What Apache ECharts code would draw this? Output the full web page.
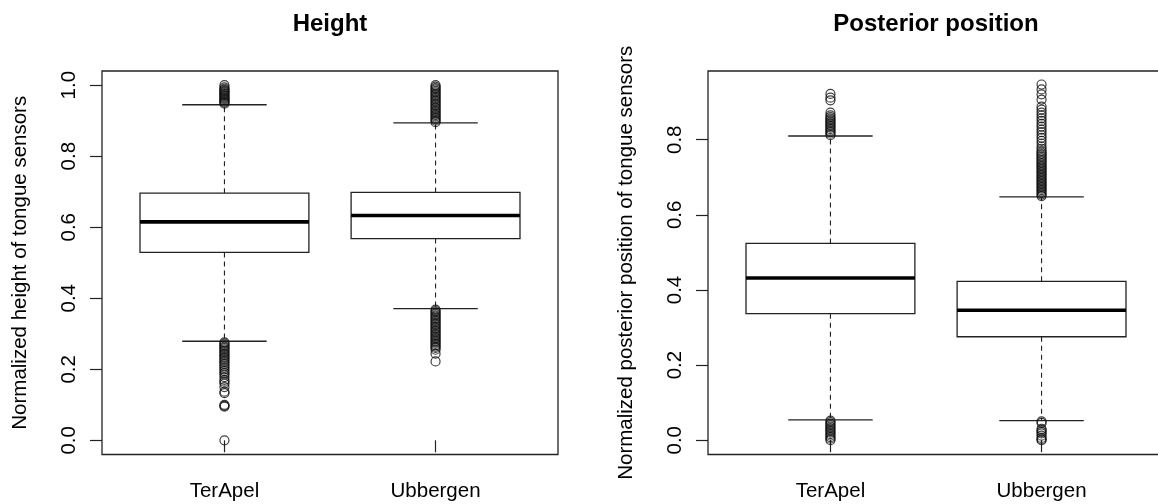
<!doctype html>
<html>
<head>
    <meta charset="utf-8">
    <title>Height / Posterior position</title>
    <style>
        html, body { margin: 0; padding: 0; background: #fff; }
        #chart { width: 1158px; height: 504px; }
    </style>
</head>
<body>
<div id="chart"></div>
<script src="https://cdn.jsdelivr.net/npm/echarts@6/dist/echarts.min.js"></script>
<script>
    // categories
    var categories = ['TerApel', 'Ubbergen'];

    // box stats per category: [lower whisker, Q1, median, Q3, upper whisker]
    var heightStats = [
        [0.279, 0.529, 0.615, 0.696, 0.945],
        [0.371, 0.568, 0.633, 0.698, 0.894]
    ];
    var posteriorStats = [
        [0.054, 0.337, 0.432, 0.524, 0.810],
        [0.052, 0.2755, 0.346, 0.423, 0.648]
    ];

    // outliers
    var heightOutTerApel = [0.948, 0.951, 0.954, 0.957, 0.96, 0.963, 0.966, 0.969, 0.972, 0.975, 0.978, 0.981, 0.984, 0.987, 0.99, 0.994, 1.0,
        0.276, 0.272, 0.268, 0.264, 0.26, 0.256, 0.252, 0.248, 0.244, 0.24, 0.236, 0.232, 0.228, 0.224, 0.22, 0.215, 0.21, 0.205, 0.2,
        0.195, 0.19, 0.185, 0.178, 0.17, 0.165, 0.16, 0.15, 0.137, 0.133, 0.1, 0.097, 0.095, 0.0];
    var heightOutUbbergen = [0.896, 0.9, 0.904, 0.908, 0.912, 0.916, 0.92, 0.924, 0.928, 0.932, 0.936, 0.94, 0.944, 0.948, 0.952, 0.956,
        0.96, 0.964, 0.968, 0.972, 0.976, 0.98, 0.984, 0.988, 0.992, 0.996, 1.0,
        0.368, 0.364, 0.36, 0.356, 0.352, 0.348, 0.344, 0.34, 0.336, 0.332, 0.328, 0.324, 0.32, 0.316, 0.312, 0.308, 0.304, 0.3, 0.296,
        0.292, 0.288, 0.284, 0.28, 0.276, 0.272, 0.268, 0.264, 0.26, 0.255, 0.244, 0.222];
    var posteriorOutTerApel = [0.812, 0.816, 0.82, 0.824, 0.828, 0.832, 0.836, 0.84, 0.844, 0.848, 0.852, 0.856, 0.86, 0.865, 0.872, 0.905, 0.912, 0.922,
        0.052, 0.048, 0.044, 0.04, 0.036, 0.032, 0.028, 0.024, 0.02, 0.016, 0.012, 0.008, 0.004, 0.0];
    var posteriorOutUbbergen = [0.65, 0.654, 0.658, 0.662, 0.666, 0.67, 0.674, 0.678, 0.682, 0.686, 0.69, 0.694, 0.698, 0.702, 0.706, 0.71,
        0.714, 0.718, 0.722, 0.726, 0.73, 0.734, 0.738, 0.742, 0.746, 0.75, 0.754, 0.758, 0.762, 0.766, 0.77, 0.776,
        0.782, 0.79, 0.797, 0.805, 0.812, 0.82, 0.827, 0.835, 0.842, 0.85, 0.857, 0.865, 0.872, 0.88, 0.888, 0.907, 0.921, 0.934, 0.947,
        0.05, 0.046, 0.03, 0.026, 0.022, 0.018, 0.012, 0.006, 0.002, 0.0];

    // tick labels
    var heightTicks = [0, 0.2, 0.4, 0.6, 0.8, 1.0];
    var posteriorTicks = [0, 0.2, 0.4, 0.6, 0.8];
    var titles = ['Height', 'Posterior position'];
    var yNames = ['Normalized height of tongue sensors', 'Normalized posterior position of tongue sensors'];

    var font = 'Liberation Sans, Arial, Helvetica, sans-serif';
    var ink = '#222';

    function boxData(stats) {
        return stats.map(function (s, i) { return [i + 1].concat(s); });
    }
    function outData(vals, x) {
        return vals.map(function (v) { return [x, v]; });
    }

    // R style box: dashed whiskers, half-width staples, thick median
    function renderBox(params, api) {
        var x = api.value(0);
        var lo = api.coord([x, api.value(1)]);
        var q1 = api.coord([x, api.value(2)]);
        var md = api.coord([x, api.value(3)]);
        var q3 = api.coord([x, api.value(4)]);
        var hi = api.coord([x, api.value(5)]);
        var bw = api.size([0.8, 0])[0];
        var sw = api.size([0.4, 0])[0];
        var cx = md[0];
        var dash = {stroke: ink, lineWidth: 1.1, lineDash: [5, 4]};
        var solid = {stroke: ink, lineWidth: 1.3};
        return {
            type: 'group',
            children: [
                {type: 'line', shape: {x1: cx, y1: q3[1], x2: cx, y2: hi[1]}, style: dash},
                {type: 'line', shape: {x1: cx, y1: q1[1], x2: cx, y2: lo[1]}, style: dash},
                {type: 'line', shape: {x1: cx - sw / 2, y1: hi[1], x2: cx + sw / 2, y2: hi[1]}, style: solid},
                {type: 'line', shape: {x1: cx - sw / 2, y1: lo[1], x2: cx + sw / 2, y2: lo[1]}, style: solid},
                {type: 'rect', shape: {x: cx - bw / 2, y: q3[1], width: bw, height: q1[1] - q3[1]},
                    style: {fill: '#fff', stroke: ink, lineWidth: 1.3}},
                {type: 'line', shape: {x1: cx - bw / 2, y1: md[1], x2: cx + bw / 2, y2: md[1]},
                    style: {stroke: '#000', lineWidth: 3.6}}
            ]
        };
    }

    function xAxisFor(idx) {
        return {
            type: 'value', gridIndex: idx, min: 0.42, max: 2.58,
            axisLine: {show: false},
            splitLine: {show: false},
            axisTick: {show: true, customValues: [1, 2], length: 12, lineStyle: {color: ink, width: 1.2}},
            axisLabel: {
                customValues: [1, 2], margin: 26, color: '#000', fontSize: 20.5, fontFamily: font,
                formatter: function (v) { return categories[Math.round(v) - 1]; }
            }
        };
    }
    function yAxisFor(idx, lo, hi, ticks, name) {
        return {
            type: 'value', gridIndex: idx, min: lo, max: hi,
            name: name, nameLocation: 'middle', nameGap: 71,
            nameTextStyle: {color: '#000', fontSize: 20.5, fontFamily: font},
            axisLine: {show: false},
            splitLine: {show: false},
            axisTick: {show: true, customValues: ticks, length: 12, lineStyle: {color: ink, width: 1.2}},
            axisLabel: {
                customValues: ticks, rotate: 90, margin: 22, color: '#000', fontSize: 20.5, fontFamily: font,
                formatter: function (v) { return v.toFixed(1); }
            }
        };
    }
    function outSeries(idx, vals, x) {
        return {
            type: 'scatter', xAxisIndex: idx, yAxisIndex: idx, z: 5,
            symbol: 'circle', symbolSize: 9,
            itemStyle: {color: 'rgba(0,0,0,0)', borderColor: '#111', borderWidth: 1.2},
            data: outData(vals, x)
        };
    }

    var myChart = echarts.init(document.getElementById('chart'), null, {renderer: 'canvas'});
    var option = {
        backgroundColor: '#fff',
        animation: false,
        title: [
            {text: titles[0], left: 330, top: 12, padding: 0, textAlign: 'center',
                textStyle: {fontSize: 24, fontWeight: 'bold', color: '#000', fontFamily: font}},
            {text: titles[1], left: 936, top: 12, padding: 0, textAlign: 'center',
                textStyle: {fontSize: 24, fontWeight: 'bold', color: '#000', fontFamily: font}}
        ],
        grid: [
            {left: 102, top: 71, width: 456, height: 383.5, outerBoundsMode: 'none', containLabel: false,
                show: true, borderColor: ink, borderWidth: 1.3, backgroundColor: 'transparent'},
            {left: 708, top: 71, width: 456, height: 383.5, outerBoundsMode: 'none', containLabel: false,
                show: true, borderColor: ink, borderWidth: 1.3, backgroundColor: 'transparent'}
        ],
        xAxis: [xAxisFor(0), xAxisFor(1)],
        yAxis: [
            yAxisFor(0, -0.04, 1.04, heightTicks, yNames[0]),
            yAxisFor(1, -0.038, 0.983, posteriorTicks, yNames[1])
        ],
        series: [
            {type: 'custom', xAxisIndex: 0, yAxisIndex: 0, renderItem: renderBox,
                encode: {x: 0, y: [1, 2, 3, 4, 5]}, data: boxData(heightStats)},
            {type: 'custom', xAxisIndex: 1, yAxisIndex: 1, renderItem: renderBox,
                encode: {x: 0, y: [1, 2, 3, 4, 5]}, data: boxData(posteriorStats)},
            outSeries(0, heightOutTerApel, 1),
            outSeries(0, heightOutUbbergen, 2),
            outSeries(1, posteriorOutTerApel, 1),
            outSeries(1, posteriorOutUbbergen, 2)
        ]
    };
    myChart.setOption(option);
</script>
</body>
</html>
